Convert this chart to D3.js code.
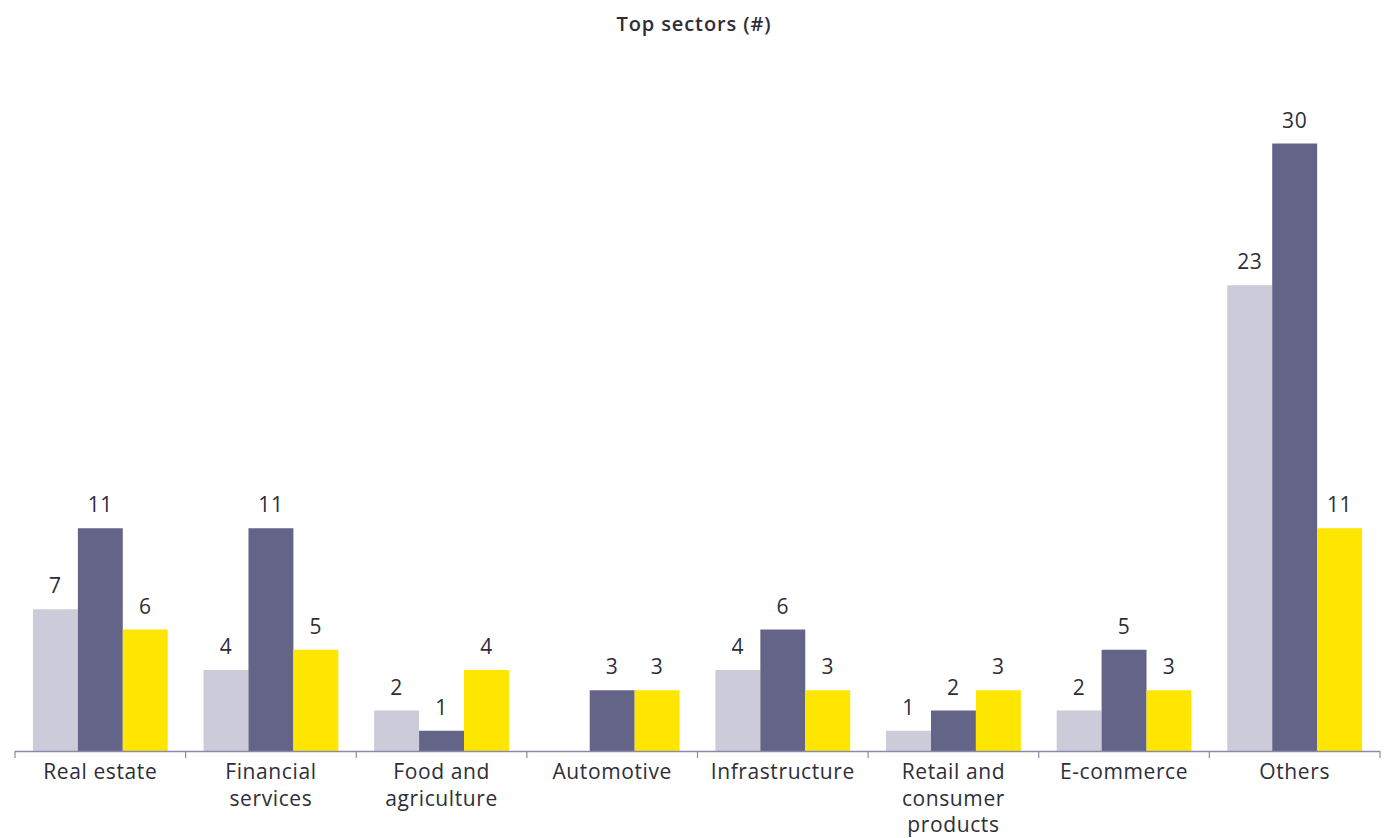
<!DOCTYPE html>
<html>
<head>
<meta charset="utf-8">
<script src="https://cdn.jsdelivr.net/npm/d3@7"></script>
<style>
  html, body { margin: 0; padding: 0; background: #fff; }
  svg { display: block; }
</style>
</head>
<body>
<svg id="chart" width="1394" height="838"></svg>
<script>
// Sector counts for three periods
const categories = ["Real estate", "Financial services", "Food and agriculture", "Automotive",
  "Infrastructure", "Retail and consumer products", "E-commerce", "Others"];
const seriesNames = ["Period 1", "Period 2", "Period 3"];
const seriesA = [7, 4, 2, 0, 4, 1, 2, 23];
const seriesB = [11, 11, 1, 3, 6, 2, 5, 30];
const seriesC = [6, 5, 4, 3, 3, 3, 3, 11];
const seriesColors = ["#CBCBDA", "#646489", "#FFE600"];
const title = "Top sectors (#)";

const values = [seriesA, seriesB, seriesC];
const W = 1394, H = 838;
const margin = { left: 15, right: 14 };
const baseY = 751;
const svg = d3.select("#chart");
const font = "'Open Sans', sans-serif";
const textColor = "#2e2e38";
const labelSize = 21;
const spacing = 0.6;

const x0 = d3.scaleBand().domain(categories).range([margin.left, W - margin.right]).paddingInner(0.21).paddingOuter(0.105);
const x1 = d3.scaleBand().domain(seriesNames).range([0, x0.bandwidth()]).padding(0);
const y = d3.scaleLinear().domain([0, 30]).range([baseY, baseY - 30 * 20.25]);

// Title
svg.append("text")
  .attr("x", 694).attr("y", 31)
  .attr("text-anchor", "middle")
  .attr("font-family", font).attr("font-weight", 600).attr("font-size", 20)
  .attr("letter-spacing", 0.9)
  .attr("fill", textColor)
  .text(title);

// Bars
const groups = svg.append("g").selectAll("g")
  .data(categories)
  .join("g")
  .attr("transform", d => `translate(${x0(d)},0)`);

const cells = groups.selectAll("g")
  .data((d, i) => seriesNames.map((s, j) => ({ s, j, v: values[j][i] })))
  .join("g");

cells.append("rect")
  .attr("x", d => x1(d.s))
  .attr("width", x1.bandwidth())
  .attr("y", d => y(d.v))
  .attr("height", d => baseY - y(d.v))
  .attr("fill", d => seriesColors[d.j]);

cells.filter(d => d.v > 0).append("text")
  .attr("x", d => x1(d.s) + x1.bandwidth() / 2)
  .attr("y", d => y(d.v) - 16)
  .attr("text-anchor", "middle")
  .attr("font-family", font).attr("font-size", labelSize)
  .attr("letter-spacing", spacing)
  .attr("fill", textColor)
  .text(d => d.v);

// Category axis with separators between groups
const axisG = svg.append("g");
axisG.append("line")
  .attr("x1", margin.left).attr("x2", W - margin.right)
  .attr("y1", baseY + 0.5).attr("y2", baseY + 0.5)
  .attr("stroke", "#8a8aa8").attr("stroke-width", 1.5);
const edges = d3.range(categories.length + 1).map(i => margin.left + i * (W - margin.right - margin.left) / categories.length);
axisG.selectAll("line.tick")
  .data(edges)
  .join("line")
  .attr("class", "tick")
  .attr("x1", d => d).attr("x2", d => d)
  .attr("y1", baseY).attr("y2", baseY + 7)
  .attr("stroke", "#8a8aa8").attr("stroke-width", 1.2);

// Wrapped category labels
function wrapWords(text, maxW, measure) {
  const words = text.split(" ");
  const lines = [];
  let line = "";
  words.forEach(w => {
    const test = line ? line + " " + w : w;
    if (line && measure(test) > maxW) { lines.push(line); line = w; }
    else line = test;
  });
  if (line) lines.push(line);
  return lines;
}
const measurer = svg.append("text").attr("font-family", font).attr("font-size", labelSize)
  .attr("letter-spacing", spacing).attr("visibility", "hidden");
const measure = s => { measurer.text(s); return measurer.node().getComputedTextLength(); };

svg.append("g").selectAll("text")
  .data(categories)
  .join("text")
  .attr("x", d => x0(d) + x0.bandwidth() / 2)
  .attr("y", baseY + 28)
  .attr("text-anchor", "middle")
  .attr("font-family", font).attr("font-size", labelSize)
  .attr("letter-spacing", spacing)
  .attr("fill", textColor)
  .each(function (d) {
    const lines = wrapWords(d, 150, measure);
    const t = d3.select(this);
    lines.forEach((ln, i) => {
      t.append("tspan")
        .attr("x", x0(d) + x0.bandwidth() / 2)
        .attr("dy", i === 0 ? 0 : 26.5)
        .text(ln);
    });
  });
measurer.remove();
</script>
</body>
</html>
